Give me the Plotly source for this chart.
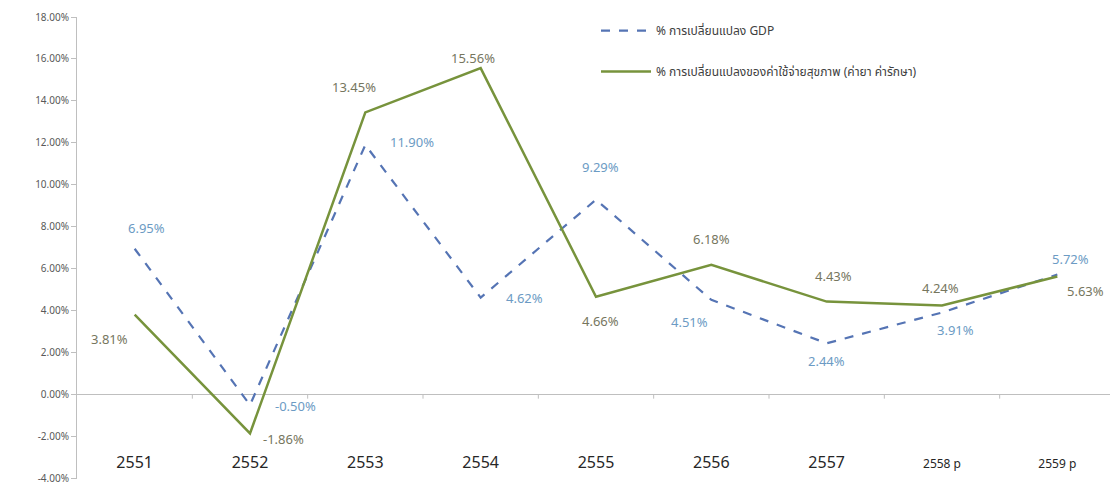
import plotly.graph_objects as go

years = ["2551", "2552", "2553", "2554", "2555", "2556", "2557", "2558 p", "2559 p"]
gdp_change = [6.95, -0.50, 11.90, 4.62, 9.29, 4.51, 2.44, 3.91, 5.72]
health_change = [3.81, -1.86, 13.45, 15.56, 4.66, 6.18, 4.43, 4.24, 5.63]
y_ticks = [-4, -2, 0, 2, 4, 6, 8, 10, 12, 14, 16, 18]

gdp_name = "% การเปลี่ยนแปลง GDP"
health_name = "% การเปลี่ยนแปลงของค่าใช้จ่ายสุขภาพ (ค่ายา ค่ารักษา)"

# label offsets in pixels (x, y) -- layout only
gdp_offsets = [(12, 20), (45, -2), (47, 2), (44, -1), (4, 32), (-22, -23), (0, -19), (13, -19), (13, 15)]
health_offsets = [(-25, -25), (33, -7), (-11, 24), (-8, 9), (4, -25), (0, 25), (7, 25), (-2, 17), (28, -16)]

font_fam = "Tahoma, 'Noto Sans Thai', 'DejaVu Sans', Verdana, sans-serif"

fig = go.Figure()
fig.add_trace(go.Scatter(
    x=years, y=gdp_change, mode="lines", name=gdp_name,
    line=dict(color="#5574B4", width=2.2, dash="dash"),
    legendgroup="g1",
))
fig.add_trace(go.Scatter(
    x=years, y=health_change, mode="lines", name=health_name,
    line=dict(color="#77933C", width=2.5),
    legendgroup="g2",
))

annotations = []
for i, (v, (dx, dy)) in enumerate(zip(gdp_change, gdp_offsets)):
    annotations.append(dict(x=i, y=v, xref="x", yref="y", text=f"{v:.2f}%",
                            showarrow=False, xshift=dx, yshift=dy,
                            font=dict(size=13, color="#6C9BC4", family=font_fam)))
for i, (v, (dx, dy)) in enumerate(zip(health_change, health_offsets)):
    annotations.append(dict(x=i, y=v, xref="x", yref="y", text=f"{v:.2f}%",
                            showarrow=False, xshift=dx, yshift=dy,
                            font=dict(size=13, color="#76765E", family=font_fam)))

shapes = []
for i in range(len(years)):
    shapes.append(dict(type="line", xref="x", yref="y", x0=i + 0.5, x1=i + 0.5,
                       y0=0, y1=-0.2, line=dict(color="#BFBFBF", width=1)))

tick_text = []
for yr in years:
    if yr.endswith("p"):
        tick_text.append(f"<span style='font-size:12px'>{yr}</span>")
    else:
        tick_text.append(yr)

# page body has an 8px default margin, so the figure is offset by 8px
fig.update_layout(
    width=1110, height=479,
    margin=dict(l=69, r=3, t=9, b=8, autoexpand=False),
    paper_bgcolor="white", plot_bgcolor="white",
    font=dict(family=font_fam, color="#404040"),
    showlegend=True,
    legend=dict(x=0.5, y=1.002, xanchor="left", yanchor="top",
                bgcolor="rgba(0,0,0,0)", font=dict(size=12, color="#404040"),
                tracegroupgap=22, itemwidth=50),
    xaxis=dict(type="category", range=[-0.5, 8.5], showgrid=False, zeroline=False,
               showline=False, ticks="", tickvals=years, ticktext=tick_text,
               tickfont=dict(size=16, color="#262626", family=font_fam),
               anchor="free", position=0.06, automargin=False),
    yaxis=dict(range=[-4.03, 18], tickvals=y_ticks,
               ticktext=[f"{t:.2f}%" for t in y_ticks],
               showgrid=False, zeroline=True, zerolinecolor="#BFBFBF", zerolinewidth=1,
               showline=True, linecolor="#BFBFBF", linewidth=1,
               ticks="outside", ticklen=5, tickcolor="#BFBFBF", automargin=False,
               tickfont=dict(size=10, color="#595959", family=font_fam)),
    annotations=annotations,
    shapes=shapes,
)

fig.write_html("out.html")
